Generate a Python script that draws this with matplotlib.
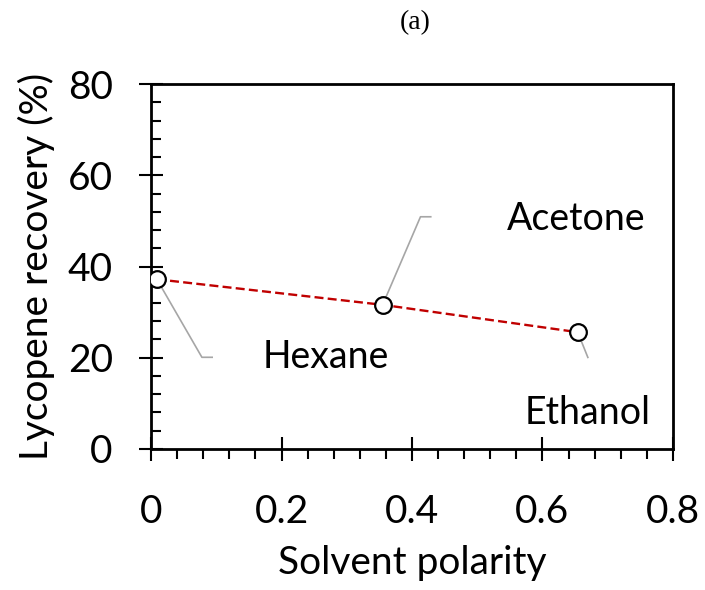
import matplotlib
matplotlib.use("Agg")
import matplotlib.pyplot as plt
from matplotlib.ticker import MultipleLocator

# solvent polarity vs lycopene recovery
solvents = ["Hexane", "Acetone", "Ethanol"]
polarity = [0.009, 0.355, 0.654]
recovery = [37.2, 31.6, 25.6]
xtick_labels = ["0", "0.2", "0.4", "0.6", "0.8"]

# data label placement (text centre) and leader line bends, in data units
label_xy = [(0.268, 20.1), (0.651, 50.5), (0.669, 7.9)]
leader_paths = [
    [(0.078, 20.1), (0.095, 20.1)],
    [(0.413, 50.9), (0.430, 50.9)],
    [(0.670, 19.9)],
]

plt.rcParams["font.family"] = ["Lato", "DejaVu Sans"]

fig = plt.figure(figsize=(7.05, 5.9), dpi=100)
ax = fig.add_axes([0.2142, 0.2390, 0.7404, 0.6186])

# leader lines from each point out to its label
for (px, py), path in zip(zip(polarity, recovery), leader_paths):
    xs = [px] + [p[0] for p in path]
    ys = [py] + [p[1] for p in path]
    ax.plot(xs, ys, color="#A6A6A6", lw=1.2, zorder=2, solid_capstyle="butt")

ax.plot(polarity, recovery, color="#C00000", lw=1.7, dashes=(3.8, 1.8),
        marker="o", markersize=12, markerfacecolor="white",
        markeredgecolor="black", markeredgewidth=1.6, zorder=3)

for name, (lx, ly) in zip(solvents, label_xy):
    ax.text(lx, ly, name, fontsize=27, ha="center", va="center")

ax.set_xlim(0, 0.8)
ax.set_ylim(0, 80)
ax.set_xticks([0, 0.2, 0.4, 0.6, 0.8])
ax.set_xticklabels(xtick_labels)
ax.xaxis.set_minor_locator(MultipleLocator(0.04))
ax.yaxis.set_major_locator(MultipleLocator(20))
ax.yaxis.set_minor_locator(MultipleLocator(4))

for s in ax.spines.values():
    s.set_linewidth(2)

ax.tick_params(axis="x", which="major", direction="inout", length=17, width=1.5,
               labelsize=28, pad=24)
ax.tick_params(axis="x", which="minor", direction="out", length=7, width=1.5)
ax.tick_params(axis="y", which="major", direction="inout", length=17, width=1.5,
               labelsize=28, pad=19)
ax.tick_params(axis="y", which="minor", direction="in", length=7, width=1.5)

ax.set_xlabel("Solvent polarity", fontsize=28, labelpad=11)
ax.set_ylabel("Lycopene recovery (%)", fontsize=28, labelpad=9)

fig.text(0.589, 0.962, "(a)", fontsize=20, family="Liberation Serif",
         ha="center", va="center")

fig.savefig("out.png", dpi=100)
plt.close(fig)
